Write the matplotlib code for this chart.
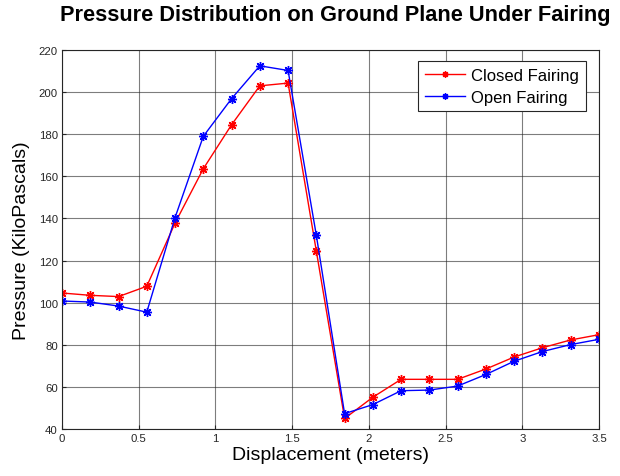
import numpy as np
import matplotlib
matplotlib.use("Agg")
import matplotlib.pyplot as plt

plt.rcParams['font.family'] = ['Liberation Sans', 'DejaVu Sans']

# 20 equally spaced stations along the ground plane
displacement = np.linspace(0, 3.5, 20)
closed_fairing = [104.6, 103.5, 102.9, 107.8, 137.8, 163.6, 184.5, 203.0, 204.3, 124.5,
                  45.0, 55.1, 63.6, 63.6, 63.6, 68.5, 74.2, 78.6, 82.3, 84.8]
open_fairing = [100.8, 100.3, 98.4, 95.5, 140.4, 179.0, 196.9, 212.5, 210.3, 132.0,
                47.3, 51.6, 58.2, 58.5, 60.4, 65.9, 72.2, 76.8, 80.1, 82.6]

fig = plt.figure(figsize=(6.2, 4.77), dpi=100)
ax = fig.add_axes([0.1, 0.0985, 0.866, 0.7945])

asterisk = (8, 2, 0)
ax.plot(displacement, closed_fairing, color='#ff0000', marker=asterisk, ms=6.5, mew=1,
        lw=1, label='Closed Fairing')
ax.plot(displacement, open_fairing, color='#0000ff', marker=asterisk, ms=6.5, mew=1,
        lw=1, label='Open Fairing')

ax.set_xlim(0, 3.5)
ax.set_ylim(40, 220)
ax.set_xticks(np.arange(0, 3.51, 0.5))
ax.set_xticklabels(['0', '0.5', '1', '1.5', '2', '2.5', '3', '3.5'])
ax.set_yticks(np.arange(40, 221, 20))
ax.grid(True, color='#262626', alpha=0.6, lw=0.8)
ax.tick_params(direction='in', length=3, labelsize=8.2, colors='#262626', pad=3)
for s in ax.spines.values():
    s.set_color('#262626')
    s.set_linewidth(0.8)

ax.set_xlabel('Displacement (meters)', fontsize=14, labelpad=2)
ax.set_ylabel('Pressure (KiloPascals)', fontsize=14, labelpad=6)
fig.suptitle('Pressure Distribution on Ground Plane Under Fairing',
             fontsize=15.7, fontweight='bold', x=0.54, y=0.99)

leg = ax.legend(loc='upper right', bbox_to_anchor=(0.976, 0.970), borderaxespad=0,
                fontsize=12, fancybox=False, edgecolor='#262626', framealpha=1,
                handlelength=2.4, handletextpad=0.4, borderpad=0.4,
                labelspacing=0.4, markerscale=0.7)
leg.get_frame().set_linewidth(0.8)

fig.savefig('out.png', dpi=100)
